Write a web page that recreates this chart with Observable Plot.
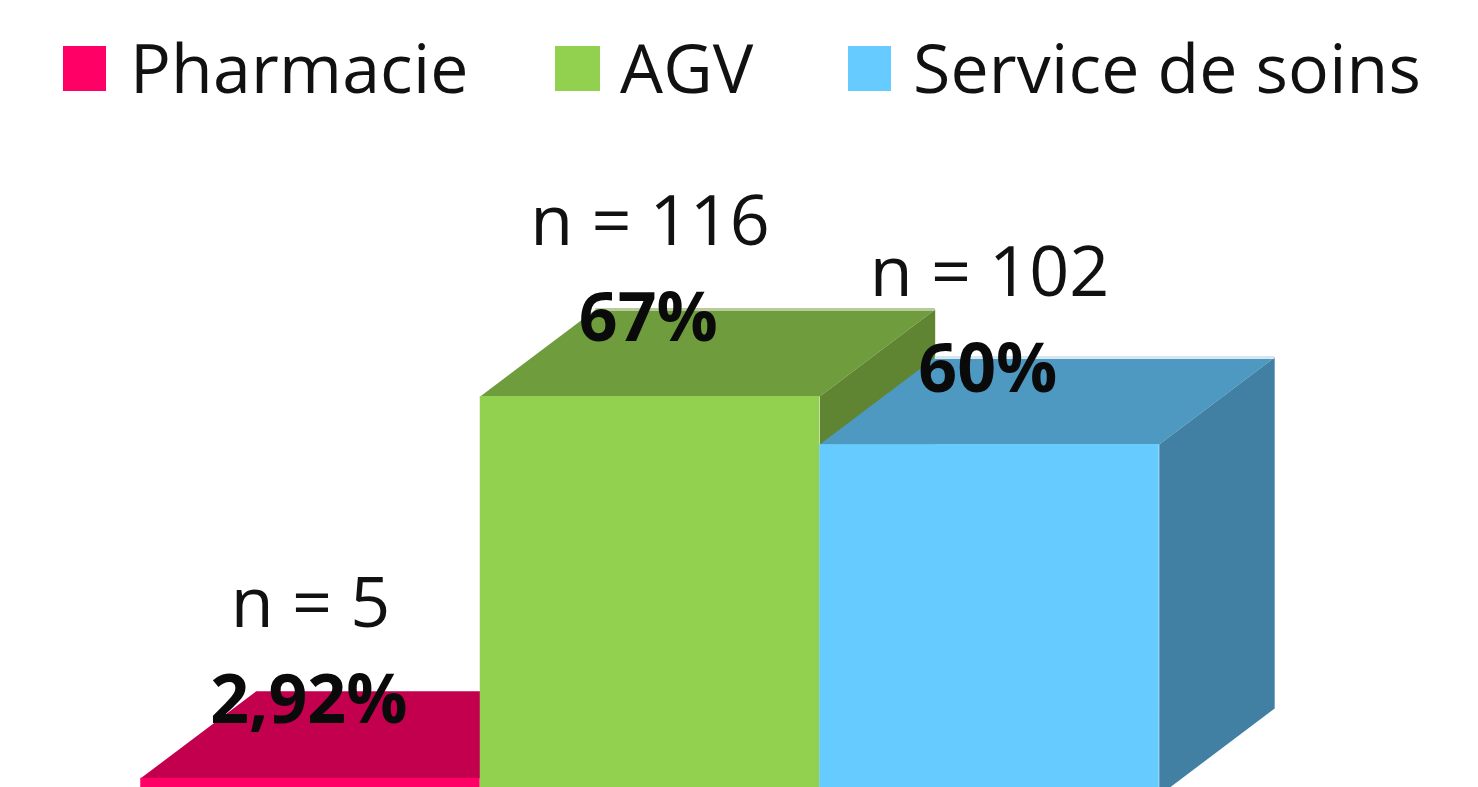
<!DOCTYPE html>
<html lang="fr">
<head>
<meta charset="utf-8">
<script src="https://cdn.jsdelivr.net/npm/d3@7"></script>
<script src="https://cdn.jsdelivr.net/npm/@observablehq/plot@0.6"></script>
<style>
  html, body { margin: 0; padding: 0; background: #fff; overflow: hidden; width: 1478px; height: 787px; }
  #legend { position: relative; height: 130px; width: 1478px; font-family: "Open Sans", sans-serif; font-size: 68px; color: #111; }
  #legend .sw { position: absolute; top: 46px; height: 45px; }
  #legend .lb { position: absolute; top: 26px; line-height: 82px; white-space: nowrap; letter-spacing: 0.2px; }
  svg { display: block; }
</style>
</head>
<body>
<div id="legend"></div>
<div id="chart"></div>
<script>
const categories = ["Pharmacie", "AGV", "Service de soins"];
const counts = [5, 116, 102];
const percents = ["2,92%", "67%", "60%"];
const frontColors = ["#FF0066", "#92D050", "#66CCFF"];
const topColors = ["#C2004E", "#6F9C3D", "#4D99C2"];
const sideColors = ["#A30041", "#5F8532", "#417FA3"];
const backEdgeColors = [null, "#B9CB9C", "#D5E6EF"];
const legendSwatchX = [63, 555, 848];
const legendSwatchW = [43, 45, 43];
const legendTextX = [130, 620, 913];

const depthX = 0.34;   // bar-widths
const depthY = 25.3;   // counts

const legend = document.getElementById("legend");
categories.forEach((c, i) => {
  const s = document.createElement("div");
  s.className = "sw";
  s.style.left = legendSwatchX[i] + "px";
  s.style.width = legendSwatchW[i] + "px";
  s.style.background = frontColors[i];
  legend.appendChild(s);
  const t = document.createElement("div");
  t.className = "lb";
  t.style.left = legendTextX[i] + "px";
  t.textContent = c;
  legend.appendChild(t);
});

const bars = categories.map((c, i) => ({
  category: c, i, n: counts[i], pct: percents[i],
  front: frontColors[i], top: topColors[i], side: sideColors[i], edge: backEdgeColors[i]
}));

const polys = bars.flatMap((b) => {
  const l = b.i - 0.5, r = b.i + 0.5;
  const top = [[l, b.n], [r, b.n], [r + depthX, b.n + depthY], [l + depthX, b.n + depthY]];
  const side = [[r, 0], [r + depthX, depthY], [r + depthX, b.n + depthY], [r, b.n]];
  return [
    ...top.map(([x, y]) => ({ id: b.category + "-top", x, y, color: b.top })),
    ...side.map(([x, y]) => ({ id: b.category + "-side", x, y, color: b.side }))
  ];
});

const backEdges = bars.filter((b) => b.edge).map((b) => ({
  i: b.i, x1: b.i - 0.5 + depthX, x2: b.i + 0.5 + depthX, y: b.n + depthY, color: b.edge
}));

const labelMarks = (rows, shift) => [
  Plot.text(rows, {
    x: "i", y: "n", text: (d) => "n = " + d.n, dy: -151 + shift, fontSize: 70,
    fill: "#111", textAnchor: "middle", lineAnchor: "bottom"
  }),
  Plot.text(rows, {
    x: (d) => d.i - 0.005, y: "n", text: "pct", dy: -55 + shift, fontSize: 68, fontWeight: 700,
    fill: "#0a0a0a", textAnchor: "middle", lineAnchor: "bottom"
  })
];

const pxPerBar = 339.5;
const pxPerCount = 3.44;
const plot = Plot.plot({
  width: 1478,
  height: 657,
  margin: 0,
  axis: null,
  style: { fontFamily: '"Open Sans", sans-serif', background: "transparent", overflow: "visible" },
  x: { type: "linear", domain: [-(310) / pxPerBar, (1478 - 310) / pxPerBar], range: [0, 1478] },
  y: { type: "linear", domain: [0, 665 / pxPerCount], range: [665, 0] },
  color: { type: "identity" },
  marks: bars.flatMap((b) => [
    Plot.line(polys.filter((p) => p.id.startsWith(b.category)), {
      x: "x", y: "y", z: "id", fill: "color", stroke: "none", curve: "linear"
    }),
    Plot.ruleY(backEdges.filter((e) => e.i === b.i), {
      x1: "x1", x2: "x2", y: "y", stroke: "color", strokeWidth: 3
    }),
    Plot.rect([b], {
      x1: (d) => d.i - 0.5, x2: (d) => d.i + 0.5, y1: 0, y2: "n", fill: "front"
    })
  ]).concat(
    labelMarks(bars.filter((b) => b.i < 2), 0),
    labelMarks(bars.filter((b) => b.i === 2), 2)
  )
});
document.getElementById("chart").appendChild(plot);
</script>
</body>
</html>
